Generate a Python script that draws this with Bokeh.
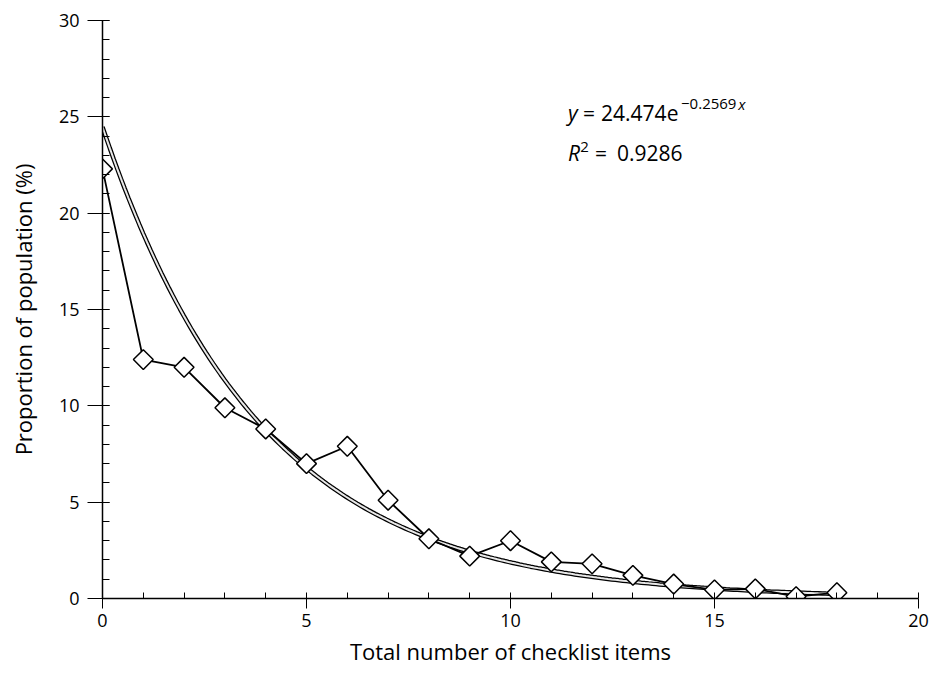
import numpy as np
from bokeh.plotting import figure
from bokeh.models import Range1d, Label, ColumnDataSource, FixedTicker
from bokeh.embed import file_html
from bokeh.resources import INLINE

# ---- data ----
items = [0, 1, 2, 3, 4, 5, 6, 7, 8, 9, 10, 11, 12, 13, 14, 15, 16, 17, 18]
proportion = [22.3, 12.4, 12.0, 9.9, 8.8, 7.0, 7.9, 5.1, 3.1, 2.2, 3.0,
              1.9, 1.8, 1.2, 0.75, 0.45, 0.5, 0.1, 0.3]
fit_a = 24.474
fit_b = -0.2569
r_squared = 0.9286
x_ticks = [0, 5, 10, 15, 20]
y_ticks = [0, 5, 10, 15, 20, 25, 30]

FONT = "Open Sans"

p = figure(width=930, height=668, output_backend="svg", toolbar_location=None,
           x_range=Range1d(0, 20), y_range=Range1d(0, 30),
           min_border_left=102, min_border_right=12, min_border_top=20,
           min_border_bottom=10)
p.outline_line_color = None
p.grid.visible = False
p.background_fill_color = "white"

# exponential trendline (from the chart's own fitted equation)
xt = np.linspace(0, 18, 200)
yt = fit_a * np.exp(fit_b * xt)
p.line(xt, yt, line_color="black", line_width=4.5)
p.line(xt, yt, line_color="#e8e8e8", line_width=2)

src = ColumnDataSource(dict(x=items, y=proportion))
p.line("x", "y", source=src, line_color="black", line_width=1.8)
p.scatter("x", "y", source=src, marker="square", angle=np.pi / 4, size=14,
          fill_color="white", line_color="black", line_width=1.5)

for ax in (p.xaxis[0], p.yaxis[0]):
    ax.axis_line_color = "black"
    ax.axis_line_width = 1.5
    ax.major_tick_line_color = "black"
    ax.minor_tick_line_color = "black"
    ax.major_label_text_font = FONT
    ax.major_label_text_font_size = "18px"
    ax.major_label_text_color = "black"
    ax.axis_label_text_font = FONT
    ax.axis_label_text_font_size = "22px"
    ax.axis_label_text_font_style = "normal"
    ax.axis_label_text_color = "black"

p.xaxis[0].ticker = FixedTicker(ticks=x_ticks, minor_ticks=list(range(0, 21)))
p.yaxis[0].ticker = FixedTicker(ticks=y_ticks, minor_ticks=list(range(0, 31)))

p.xaxis.major_tick_out = 10
p.xaxis.major_tick_in = 0
p.xaxis.minor_tick_in = 6
p.xaxis.minor_tick_out = 0
p.xaxis.major_label_standoff = 5
p.xaxis.axis_label = "Total number of checklist items"
p.xaxis.axis_label_standoff = 6

p.yaxis.major_tick_out = 15
p.yaxis.major_tick_in = 7
p.yaxis.minor_tick_in = 7
p.yaxis.minor_tick_out = 0
p.yaxis.major_label_standoff = 8
p.yaxis.axis_label = "Proportion of population (%)"
p.yaxis.axis_label_standoff = 18

# ---- equation annotation ----
def lab(x, y, t, size="21px", style="normal", align="left"):
    p.add_layout(Label(x=x, y=y, text=t, text_font=FONT, text_font_size=size,
                       text_font_style=style, text_color="black",
                       text_baseline="alphabetic", text_align=align))

lab(11.41, 25.22, "y", style="italic")
lab(11.78, 25.22, "=")
lab(12.22, 25.22, "24.474e")
lab(14.18, 25.69, "\u22120.2569", size="15px")
lab(15.58, 25.69, "x", size="15px", style="italic")
lab(11.41, 23.14, "R", style="italic")
lab(11.71, 23.46, "2", size="15px")
lab(12.07, 23.14, "=")
lab(12.61, 23.14, "%.4f" % r_squared)

open("out.html", "w").write(file_html(p, INLINE))
